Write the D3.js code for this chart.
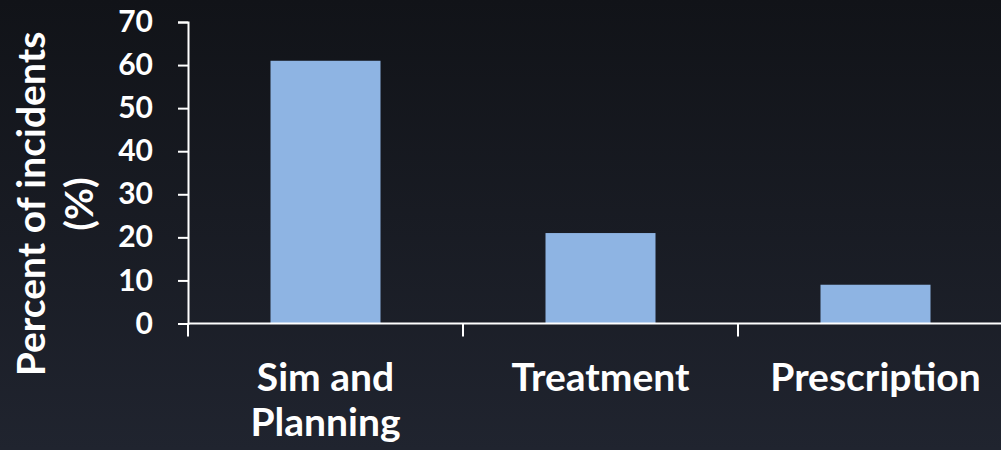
<!DOCTYPE html>
<html>
<head>
<meta charset="utf-8">
<script src="https://cdn.jsdelivr.net/npm/d3@7"></script>
<style>
  html, body { margin: 0; padding: 0; background: #171a21; }
  svg { display: block; }
</style>
</head>
<body>
<div id="chart"></div>
<script>
var categories = [["Sim and", "Planning"], ["Treatment"], ["Prescription"]];
var values = [61, 21, 9];
var yTicks = [0, 10, 20, 30, 40, 50, 60, 70];
var yLabel = ["Percent of incidents", "(%)"];

var width = 1001, height = 450;
var font = "Lato, 'Open Sans', sans-serif";

var svg = d3.select("#chart").append("svg")
    .attr("width", width)
    .attr("height", height);

var defs = svg.append("defs");
var grad = defs.append("linearGradient")
    .attr("id", "bg")
    .attr("x1", 0).attr("y1", 0).attr("x2", 0).attr("y2", 1);
grad.append("stop").attr("offset", "0%").attr("stop-color", "#111318");
grad.append("stop").attr("offset", "100%").attr("stop-color", "#20242f");

svg.append("rect")
    .attr("width", width)
    .attr("height", height)
    .attr("fill", "url(#bg)");

// plot area
var x0 = 188, x1 = 1013, yTop = 22, yBottom = 323.5;

var x = d3.scaleBand()
    .domain(d3.range(categories.length))
    .range([x0, x1])
    .paddingInner(0.6)
    .paddingOuter(0.3);

var y = d3.scaleLinear()
    .domain([0, 70])
    .range([yBottom, yTop]);

// bars
svg.append("g").selectAll("rect")
    .data(values)
    .enter().append("rect")
    .attr("x", function (d, i) { return x(i); })
    .attr("y", function (d) { return y(d); })
    .attr("width", x.bandwidth())
    .attr("height", function (d) { return y(0) - y(d); })
    .attr("fill", "#8eb4e3");

// y axis
var yAxis = svg.append("g")
    .attr("transform", "translate(" + x0 + ",0)")
    .call(d3.axisLeft(y).tickValues(yTicks).tickSize(10).tickPadding(25));
yAxis.select(".domain").attr("stroke", "#ffffff").attr("stroke-width", 2);
yAxis.selectAll(".tick line").attr("stroke", "#ffffff").attr("stroke-width", 2);
yAxis.selectAll(".tick text")
    .attr("fill", "#ffffff")
    .style("font-family", font)
    .style("font-weight", "bold")
    .style("font-size", "30px");

// x axis line and category ticks
var step = x.step();
var xAxis = svg.append("g");
xAxis.append("line")
    .attr("x1", x0).attr("x2", width)
    .attr("y1", y(0)).attr("y2", y(0))
    .attr("stroke", "#ffffff")
    .attr("stroke-width", 2);
xAxis.selectAll(".xtick")
    .data(d3.range(categories.length + 1))
    .enter().append("line")
    .attr("class", "xtick")
    .attr("x1", function (d) { return x0 + d * step; })
    .attr("x2", function (d) { return x0 + d * step; })
    .attr("y1", y(0))
    .attr("y2", y(0) + 13)
    .attr("stroke", "#ffffff")
    .attr("stroke-width", 2);

// category labels
var labels = svg.append("g").selectAll("text")
    .data(categories)
    .enter().append("text")
    .attr("x", function (d, i) { return x(i) + x.bandwidth() / 2; })
    .attr("y", 391)
    .attr("text-anchor", "middle")
    .attr("fill", "#ffffff")
    .style("font-family", font)
    .style("font-weight", "bold")
    .style("font-size", "39px");
labels.selectAll("tspan")
    .data(function (d) { return d; })
    .enter().append("tspan")
    .attr("x", function () { return d3.select(this.parentNode).attr("x"); })
    .attr("dy", function (d, i) { return i === 0 ? 0 : 45; })
    .text(function (d) { return d; });

// y label
var yl = svg.append("text")
    .attr("transform", "translate(0,204) rotate(-90)")
    .attr("text-anchor", "middle")
    .attr("fill", "#ffffff")
    .style("font-family", font)
    .style("font-weight", "bold")
    .style("font-size", "39px");
yl.selectAll("tspan")
    .data(yLabel)
    .enter().append("tspan")
    .attr("x", 0)
    .attr("y", function (d, i) { return 45 + i * 48; })
    .text(function (d) { return d; });
</script>
</body>
</html>
